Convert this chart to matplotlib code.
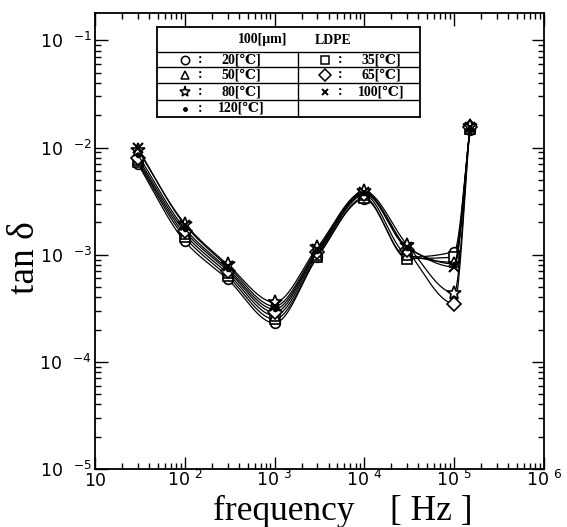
import numpy as np
import matplotlib
matplotlib.use("Agg")
import matplotlib.pyplot as plt
from matplotlib.ticker import FixedLocator, FixedFormatter, LogLocator, NullFormatter

# ---------------- data ----------------
freq = [30, 100, 300, 1e3, 3e3, 1e4, 3e4, 1e5, 1.5e5]
tan_20C  = [7.0e-3, 1.33e-3, 5.9e-4, 2.3e-4, 0.95e-3, 3.3e-3, 0.95e-3, 1.07e-3, 1.45e-2]
tan_35C  = [7.3e-3, 1.45e-3, 6.3e-4, 2.5e-4, 0.95e-3, 3.4e-3, 0.92e-3, 0.95e-3, 1.50e-2]
tan_50C  = [7.6e-3, 1.55e-3, 6.7e-4, 2.7e-4, 1.00e-3, 3.6e-3, 1.00e-3, 0.85e-3, 1.50e-2]
tan_65C  = [8.0e-3, 1.65e-3, 7.1e-4, 2.9e-4, 1.05e-3, 3.7e-3, 1.10e-3, 3.5e-4, 1.55e-2]
tan_80C  = [9.5e-3, 1.95e-3, 8.1e-4, 3.6e-4, 1.17e-3, 3.9e-3, 1.23e-3, 4.4e-4, 1.60e-2]
tan_100C = [9.8e-3, 1.90e-3, 7.8e-4, 3.3e-4, 1.12e-3, 3.85e-3, 1.18e-3, 7.7e-4, 1.55e-2]
tan_120C = [8.6e-3, 1.75e-3, 7.4e-4, 3.1e-4, 1.08e-3, 3.75e-3, 1.15e-3, 8.2e-4, 1.50e-2]

series_labels = ["20[℃]", "35[℃]", "50[℃]", "65[℃]", "80[℃]", "100[℃]", "120[℃]"]
series_values = [tan_20C, tan_35C, tan_50C, tan_65C, tan_80C, tan_100C, tan_120C]
markers = ["o", "s", "^", "D", "*", "x", "."]

x_ticks = [10, 1e2, 1e3, 1e4, 1e5, 1e6]
x_ticklabels = ["10", r"10$\ {}^{2}$", r"10$\ {}^{3}$", r"10$\ {}^{4}$", r"10$\ {}^{5}$", r"10$\ {}^{6}$"]
y_ticks = [1e-5, 1e-4, 1e-3, 1e-2, 1e-1]
y_ticklabels = [r"10$\ \ {}^{-5}$", r"10$\ \ {}^{-4}$", r"10$\ \ {}^{-3}$", r"10$\ \ {}^{-2}$", r"10$\ \ {}^{-1}$"]


def pchip(x, y, xn):
    x = np.asarray(x, float); y = np.asarray(y, float)
    h = np.diff(x); d = np.diff(y) / h
    n = len(x); m = np.zeros(n)
    for k in range(1, n - 1):
        if d[k - 1] * d[k] > 0:
            w1 = 2 * h[k] + h[k - 1]; w2 = h[k] + 2 * h[k - 1]
            m[k] = (w1 + w2) / (w1 / d[k - 1] + w2 / d[k])
    m[0] = d[0]; m[-1] = d[-1]
    idx = np.clip(np.searchsorted(x, xn) - 1, 0, n - 2)
    t = (xn - x[idx]) / h[idx]
    h00 = 2 * t**3 - 3 * t**2 + 1; h10 = t**3 - 2 * t**2 + t
    h01 = -2 * t**3 + 3 * t**2; h11 = t**3 - t**2
    return h00 * y[idx] + h10 * h[idx] * m[idx] + h01 * y[idx + 1] + h11 * h[idx] * m[idx + 1]


W, H = 567, 527
AX_L, AX_R, AX_T, AX_B = 95, 544, 13, 469
fig = plt.figure(figsize=(W / 100, H / 100), dpi=100)
ax = fig.add_axes([AX_L / W, 1 - AX_B / H, (AX_R - AX_L) / W, (AX_B - AX_T) / H])

lx = np.log10(freq)
xs = np.linspace(lx[0], lx[-1], 400)
for vals, mk in zip(series_values, markers):
    ys = pchip(lx, np.log10(vals), xs)
    ax.plot(10**xs, 10**ys, color="black", lw=0.9)
    kw = dict(ms=7, mfc="white", mec="black", mew=1.2)
    if mk == "*":
        kw["ms"] = 10
    if mk == ".":
        kw = dict(ms=6, mfc="black", mec="black")
    if mk == "x":
        kw = dict(ms=7, mec="black", mew=1.5)
    ax.plot(freq, vals, ls="none", marker=mk, **kw)

ax.set_xscale("log"); ax.set_yscale("log")
ax.set_xlim(10, 1e6); ax.set_ylim(1e-5, 0.18)
ax.xaxis.set_major_locator(FixedLocator(x_ticks))
ax.xaxis.set_major_formatter(FixedFormatter(x_ticklabels))
ax.yaxis.set_major_locator(FixedLocator(y_ticks))
ax.yaxis.set_major_formatter(FixedFormatter(y_ticklabels))
for a in (ax.xaxis, ax.yaxis):
    a.set_minor_locator(LogLocator(base=10, subs=np.arange(2, 10), numticks=20))
    a.set_minor_formatter(NullFormatter())
ax.tick_params(which="both", direction="in", top=True, right=True, width=1.0)
ax.tick_params(which="major", length=9, labelsize=12.5, colors="black")
ax.tick_params(axis="y", which="major", pad=2)
ax.tick_params(axis="x", which="major", pad=12)
ax.tick_params(which="minor", length=4.5)
for s in ax.spines.values():
    s.set_linewidth(1.3)

serif = ["Liberation Serif", "DejaVu Serif"]
fig.text(25 / W, 1 - 258 / H, "tan δ", family=serif, fontsize=27, rotation=90,
         ha="center", va="center")
fig.text(343 / W, 1 - 520 / H, "frequency    [ Hz ]", family=serif, fontsize=25.5,
         ha="center", va="baseline")

# legend table
L, R, T, B = 157, 420, 27, 117
lax = fig.add_axes([L / W, 1 - B / H, (R - L) / W, (B - T) / H])
lax.set_xlim(L, R); lax.set_ylim(B, T)
lax.set_xticks([]); lax.set_yticks([])
for s in lax.spines.values():
    s.set_linewidth(1.3)
row_edges = [52, 67, 83, 100, 117]
for yy in row_edges[:-1]:
    lax.axhline(yy, color="black", lw=1.0)
DIV = 298
lax.plot([DIV, DIV], [52, 117], color="black", lw=1.0)
tfont = dict(family=serif, fontsize=10, fontweight="bold", va="center")
lax.text(263, 40, "100[μm]", ha="center", **tfont)
lax.text(333, 40, "LDPE", ha="center", **tfont)
left_idx = [0, 2, 4, 6]
right_idx = [1, 3, 5]
for x0, idxs in ((185, left_idx), (325, right_idx)):
    for r, i in enumerate(idxs):
        yc = (row_edges[r] + row_edges[r + 1]) / 2
        mk = markers[i]
        kw = dict(ms=6, mfc="white", mec="black", mew=1.1)
        if mk == "*":
            kw["ms"] = 8
        if mk == ".":
            kw = dict(ms=5, mfc="black", mec="black")
        if mk == "x":
            kw = dict(ms=5, mec="black", mew=1.4)
        lax.plot([x0], [yc], marker=mk, ls="none", **kw)
        lax.text(x0 + 15, yc, ":", ha="center", **tfont)
        lax.text(x0 + 56, yc, series_labels[i], ha="center", **tfont)

fig.canvas.draw()
for lbl in ax.get_xticklabels():
    lbl.set_verticalalignment("baseline")

fig.savefig("out.png", dpi=100, facecolor="white")
